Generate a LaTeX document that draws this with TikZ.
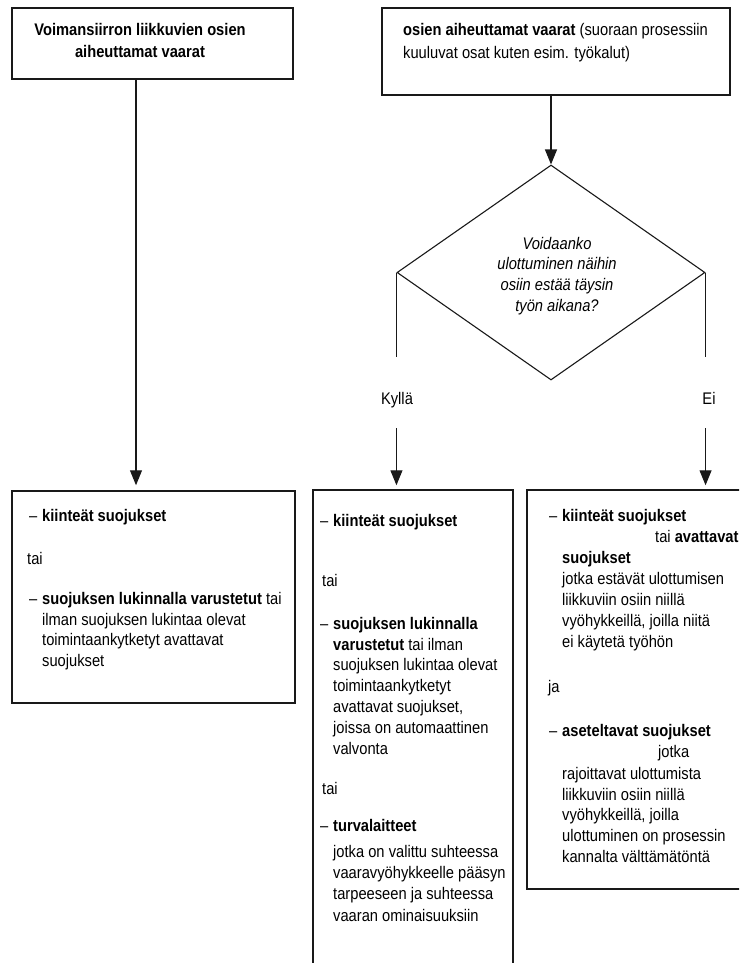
\documentclass[tikz,border=0pt]{standalone}
\usepackage{fontspec}
\setmainfont{Liberation Sans}[FakeStretch=0.875]
\usetikzlibrary{arrows.meta,shapes.geometric}

\begin{document}
\begin{tikzpicture}[x=1pt,y=-1pt,
  box/.style={draw=black!90, line width=1.5pt, inner sep=0pt, rectangle},
  txt/.style={anchor=north west, inner sep=0pt, align=left,
              font=\fontsize{16.8}{20.8}\selectfont},
  lbl/.style={inner sep=0pt, text height=12.2pt, text depth=3.5pt,
              font=\fontsize{16.8}{20.8}\selectfont},
  conn/.style={draw=black!90, line width=1.1pt},
  arr/.style={conn, -{Triangle[length=15pt,width=12pt]}},
]
\newcommand{\dsh}{\llap{–\hspace{5pt}}}
\useasboundingbox (0,0) rectangle (739,963);
\clip (0,0) rectangle (739,963);
\fill[white] (0,0) rectangle (739,963);

% top boxes
\node[box, minimum width=281pt, minimum height=71pt] (boxA) at (152.5,43.5) {};
\node[txt, anchor=north, align=center, font=\fontsize{16.8}{22.5}\selectfont\bfseries]
  (titleA) at (140,23) {Voimansiirron liikkuvien osien\\aiheuttamat vaarat};

\node[box, minimum width=348pt, minimum height=87pt] (boxB) at (556,51.5) {};
\node[txt, font=\fontsize{16.8}{23}\selectfont] (titleB) at (403,23)
  {\textbf{osien aiheuttamat vaarat} (suoraan prosessiin\\kuuluvat osat kuten esim. työkalut)};

% decision
\node[draw=black!90, line width=1.1pt, diamond, inner sep=0pt,
      minimum width=308pt, minimum height=215pt] (dia) at (551,272.5) {};
\node[txt, anchor=center, align=center, font=\fontsize{16.8}{20.8}\selectfont\itshape]
  (question) at (557,276) {Voidaanko\\ulottuminen näihin\\osiin estää täysin\\työn aikana?};

\node[lbl] (kylla) at (397,400) {Kyllä};
\node[lbl] (ei) at (709,400) {Ei};

% result boxes
\node[box, minimum width=283pt, minimum height=212pt] (boxC) at (153.5,597) {};
\node[box, minimum width=200pt, minimum height=510pt] (boxD) at (413,745) {};
\node[box, minimum width=263pt, minimum height=399pt] (boxE) at (658.5,689.5) {};

% connectors
\draw[arr, shorten >=5pt] ([xshift=-16.5pt]boxA.south) -- ([xshift=-16.5pt]boxA.south |- boxC.north);
\draw[arr] (dia.north |- boxB.south) -- (dia.north);
\draw[conn, shorten >=35pt] (dia.west) -- (dia.west |- kylla.north);
\draw[arr, shorten <=20pt, shorten >=4pt] (dia.west |- kylla.south) -- (dia.west |- boxD.north);
\draw[conn, shorten >=35pt] (dia.east) -- (dia.east |- ei.north);
\draw[arr, shorten <=20pt, shorten >=4pt] (dia.east |- ei.south) -- (dia.east |- boxE.north);

% left result box
\node[txt] (c1) at (42,509) {\dsh\textbf{kiinteät suojukset}};
\node[txt] (c2) at (27,552) {tai};
\node[txt] (c3) at (42,592) {\dsh\textbf{suojuksen lukinnalla varustetut} tai\\ilman suojuksen lukintaa olevat\\toimintaankytketyt avattavat\\suojukset};

% middle result box
\node[txt] (d1) at (333,514) {\dsh\textbf{kiinteät suojukset}};
\node[txt] (d2) at (322,574) {tai};
\node[txt] (d3) at (333,617) {\dsh\textbf{suojuksen lukinnalla}\\\textbf{varustetut} tai ilman\\suojuksen lukintaa olevat\\toimintaankytketyt\\avattavat suojukset,\\joissa on automaattinen\\valvonta};
\node[txt] (d4) at (322,782) {tai};
\node[txt] (d5) at (333,819) {\dsh\textbf{turvalaitteet}};
\node[txt, font=\fontsize{16.8}{21.3}\selectfont] (d6) at (333,845) {jotka on valittu suhteessa\\vaaravyöhykkeelle pääsyn\\tarpeeseen ja suhteessa\\vaaran ominaisuuksiin};

% right result box
\node[txt] (e1) at (562,509) {\dsh\textbf{kiinteät suojukset}};
\node[txt] (e2) at (655,530) {tai \textbf{avattavat}};
\node[txt, font=\fontsize{16.8}{21}\selectfont] (e3) at (562,551) {\textbf{suojukset}\\jotka estävät ulottumisen\\liikkuviin osiin niillä\\vyöhykkeillä, joilla niitä\\ei käytetä työhön};
\node[txt] (e4) at (548,680) {ja};
\node[txt] (e5) at (562,724) {\dsh\textbf{aseteltavat suojukset}};
\node[txt] (e6) at (658,745) {jotka};
\node[txt] (e7) at (562,767) {rajoittavat ulottumista\\liikkuviin osiin niillä\\vyöhykkeillä, joilla\\ulottuminen on prosessin\\kannalta välttämätöntä};
\end{tikzpicture}
\end{document}
